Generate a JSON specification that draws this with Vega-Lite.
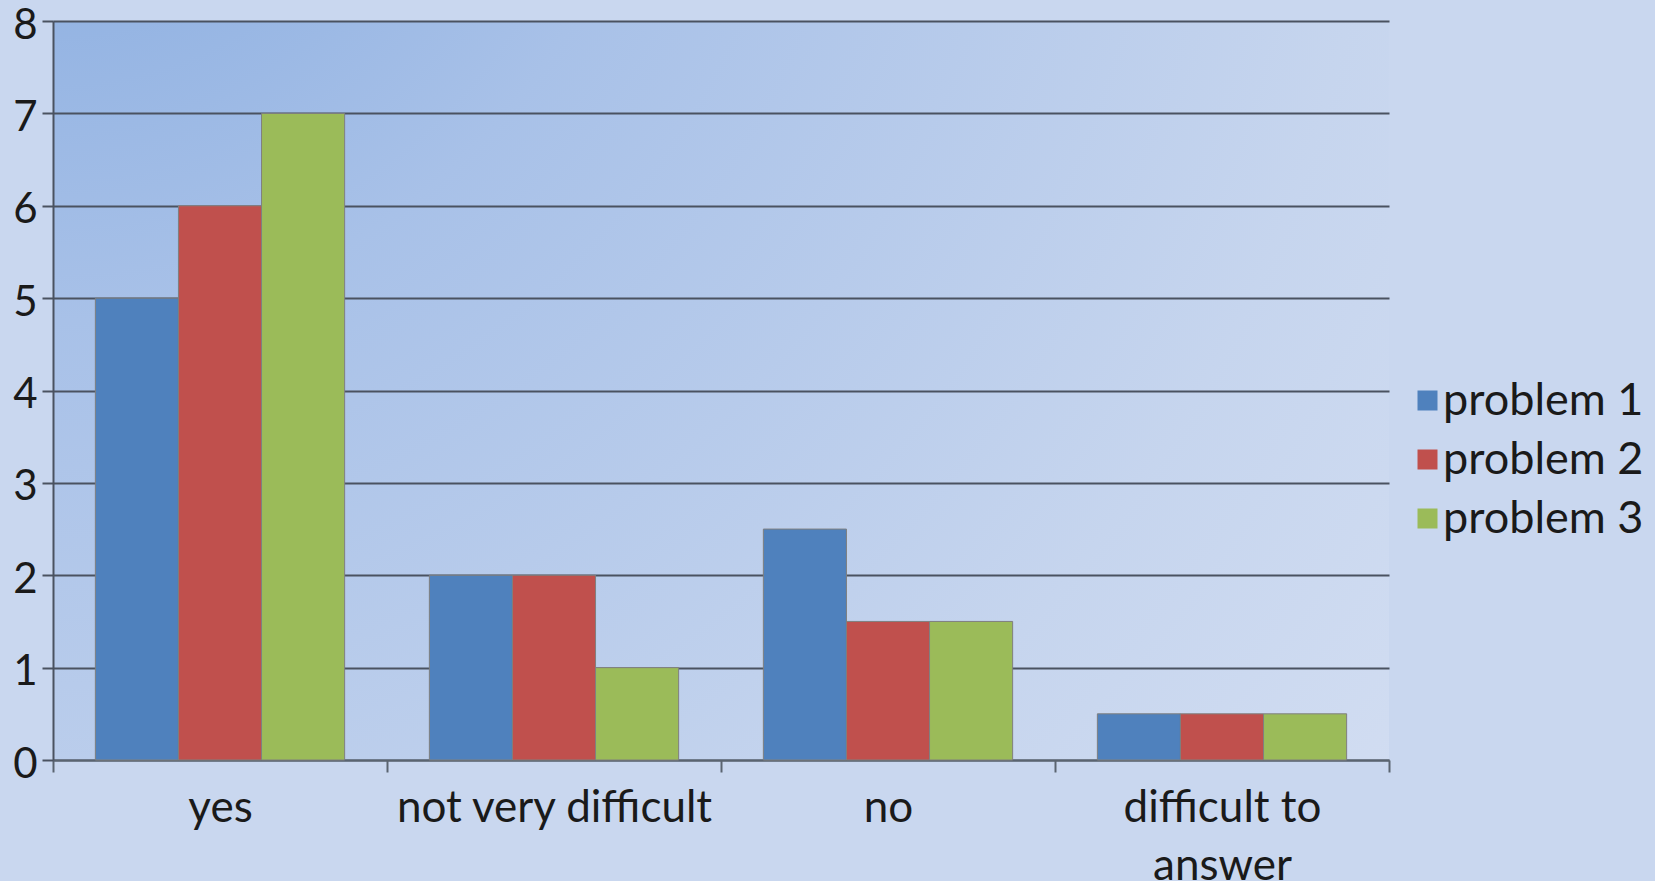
{
  "$schema": "https://vega.github.io/schema/vega-lite/v6.json",
  "autosize": {"type": "none"},
  "width": 1336,
  "height": 739,
  "padding": {"left": 53, "top": 21, "right": 266, "bottom": 121},
  "background": "#c9d7ef",
  "config": {
    "font": "Lato",
    "view": {
      "stroke": null,
      "fill": {
        "gradient": "radial",
        "x1": 0, "y1": 0, "r1": 0,
        "x2": 0, "y2": 0, "r2": 1.4,
        "stops": [
          {"offset": 0, "color": "#82a8de"},
          {"offset": 0.32, "color": "#a8c1e8"},
          {"offset": 0.71, "color": "#c6d5ee"},
          {"offset": 1, "color": "#d6e0f3"}
        ]
      }
    }
  },
  "data": {
    "values": [
      {"answer": "yes", "series": "problem 1", "value": 5},
      {"answer": "yes", "series": "problem 2", "value": 6},
      {"answer": "yes", "series": "problem 3", "value": 7},
      {"answer": "not very difficult", "series": "problem 1", "value": 2},
      {"answer": "not very difficult", "series": "problem 2", "value": 2},
      {"answer": "not very difficult", "series": "problem 3", "value": 1},
      {"answer": "no", "series": "problem 1", "value": 2.5},
      {"answer": "no", "series": "problem 2", "value": 1.5},
      {"answer": "no", "series": "problem 3", "value": 1.5},
      {"answer": "difficult to answer", "series": "problem 1", "value": 0.5},
      {"answer": "difficult to answer", "series": "problem 2", "value": 0.5},
      {"answer": "difficult to answer", "series": "problem 3", "value": 0.5}
    ]
  },
  "mark": {"type": "bar", "stroke": "#7f7f7f", "strokeWidth": 1},
  "encoding": {
    "x": {
      "field": "answer",
      "type": "nominal",
      "sort": ["yes", "not very difficult", "no", "difficult to answer"],
      "scale": {"paddingInner": 0, "paddingOuter": 0},
      "axis": {
        "title": null,
        "labelAngle": 0,
        "labelFont": "Lato",
        "labelFontSize": 44,
        "labelColor": "#1a1a1a",
        "labelPadding": 14,
        "labelLimit": 0,
        "labelLineHeight": 58,
        "labelExpr": "datum.label == 'difficult to answer' ? ['difficult to', 'answer'] : datum.label",
        "tickBand": "extent",
        "tickSize": 12,
        "tickColor": "#5a6470",
        "tickWidth": 2,
        "domainColor": "#5a6470",
        "domainWidth": 2,
        "grid": false
      }
    },
    "xOffset": {
      "field": "series",
      "type": "nominal",
      "scale": {"paddingInner": 0, "paddingOuter": 0.51}
    },
    "y": {
      "field": "value",
      "type": "quantitative",
      "scale": {"domain": [0, 8]},
      "axis": {
        "title": null,
        "values": [0, 1, 2, 3, 4, 5, 6, 7, 8],
        "labelFont": "Lato",
        "labelFontSize": 42,
        "labelColor": "#1a1a1a",
        "labelPadding": 5,
        "labelOffset": 4,
        "labelLimit": 0,
        "tickSize": 11,
        "tickColor": "#4a5260",
        "tickWidth": 2,
        "domainColor": "#4a5260",
        "domainWidth": 2,
        "grid": true,
        "gridColor": "#4a5260",
        "gridWidth": 2,
        "gridOpacity": 1
      }
    },
    "color": {
      "field": "series",
      "type": "nominal",
      "scale": {
        "domain": ["problem 1", "problem 2", "problem 3"],
        "range": ["#4f81bd", "#c0504d", "#9bbb59"]
      },
      "legend": {
        "title": null,
        "orient": "none",
        "legendX": 1352,
        "legendY": 357,
        "symbolType": "square",
        "symbolSize": 400,
        "symbolStrokeWidth": 0,
        "labelFont": "Lato",
        "labelFontSize": 45,
        "labelColor": "#1a1a1a",
        "labelOffset": -7,
        "labelLimit": 0,
        "rowPadding": 13
      }
    }
  }
}
